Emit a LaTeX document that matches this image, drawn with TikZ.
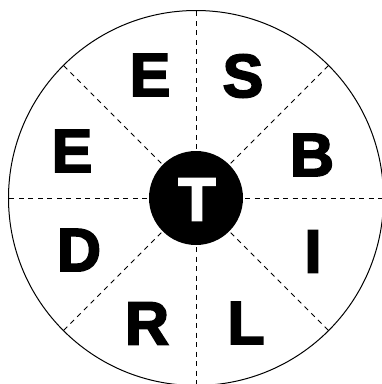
\documentclass[tikz,border=0pt]{standalone}
\usepackage{fontspec}
\setmainfont{Liberation Sans}
\newfontfamily\heavyfont[FakeBold=3]{Liberation Sans Bold}
\usetikzlibrary{calc}
\begin{document}
\begin{tikzpicture}[x=1pt,y=-1pt,
  letter/.style={font=\fontsize{61}{61}\heavyfont, inner sep=0pt, text=black},
  spoke/.style={line width=0.9pt, dash pattern=on 5pt off 4.5pt},
  rim/.style={line width=1pt}]
\useasboundingbox (0,0) rectangle (382,384);
\coordinate (c) at (196,198);
\node[draw, rim, circle, minimum size=375pt, inner sep=0pt] (outer) at (c) {};
\foreach \a in {0,45,...,315}{
  \draw[spoke] ($(c)+(\a:49)$) -- ($(c)+(\a:187.5)$);
}
\node[circle, fill=black, minimum size=94pt, inner sep=0pt] (hub) at (c) {};
\node[letter, text=white] (t) at (197,199.5) {T};
\node[letter] (e1) at (150,75) {E};
\node[letter] (s) at (243,76) {S};
\node[letter] (b) at (312,155) {B};
\node[letter] (i) at (313,251.5) {I};
\node[letter] (l) at (246,323) {L};
\node[letter] (r) at (147,323.5) {R};
\node[letter] (d) at (79,250) {D};
\node[letter] (e2) at (72,151) {E};
\end{tikzpicture}
\end{document}
